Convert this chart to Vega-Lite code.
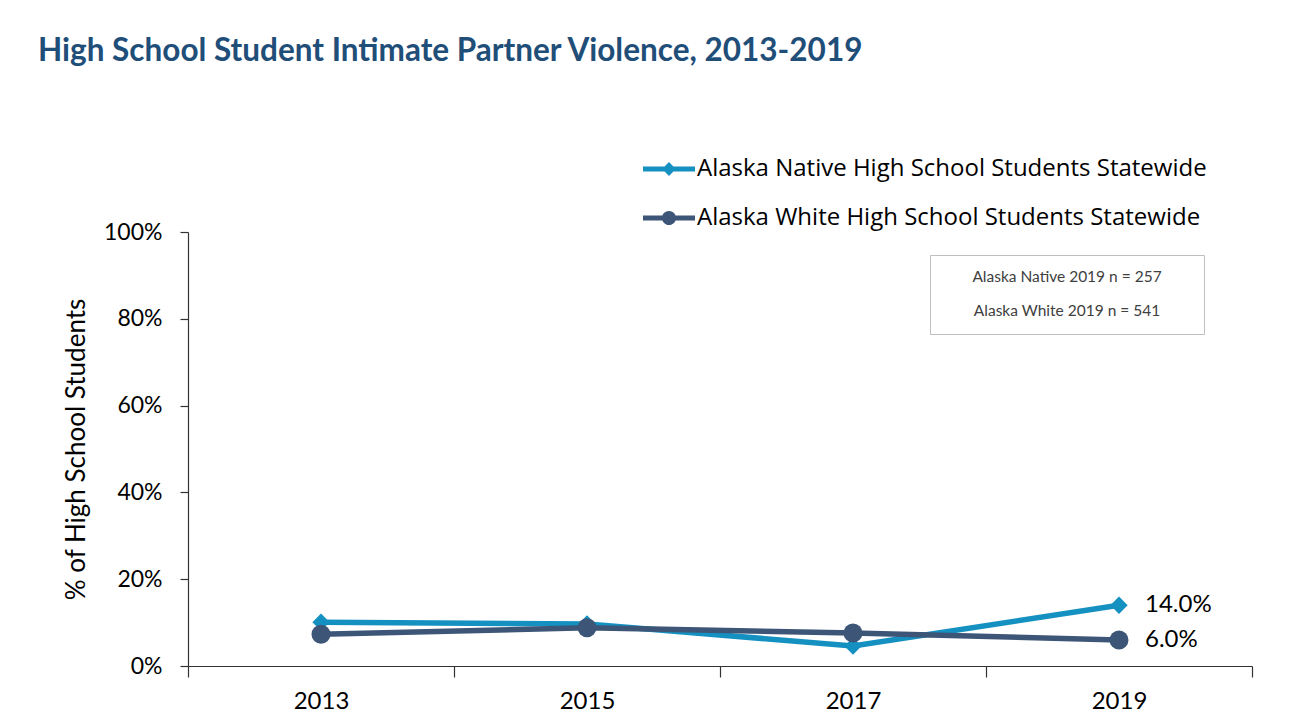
{
  "$schema": "https://vega.github.io/schema/vega-lite/v6.json",
  "width": 1064,
  "height": 434,
  "autosize": {"type": "none"},
  "padding": {"left": 188, "top": 232, "right": 53, "bottom": 61},
  "background": "white",
  "config": {"view": {"stroke": null}, "font": "Lato"},
  "title": {
    "text": "High School Student Intimate Partner Violence, 2013-2019",
    "anchor": "start",
    "frame": "group",
    "dx": -150,
    "offset": 51,
    "baseline": "alphabetic",
    "fontSize": 31.5,
    "font": "Lato",
    "fontWeight": "bold",
    "color": "#1F4E79"
  },
  "datasets": {
    "series": [
      {"year": "2013", "group": "Alaska Native High School Students Statewide", "value": 0.101},
      {"year": "2015", "group": "Alaska Native High School Students Statewide", "value": 0.097},
      {"year": "2017", "group": "Alaska Native High School Students Statewide", "value": 0.046},
      {"year": "2019", "group": "Alaska Native High School Students Statewide", "value": 0.14},
      {"year": "2013", "group": "Alaska White High School Students Statewide", "value": 0.073},
      {"year": "2015", "group": "Alaska White High School Students Statewide", "value": 0.088},
      {"year": "2017", "group": "Alaska White High School Students Statewide", "value": 0.076},
      {"year": "2019", "group": "Alaska White High School Students Statewide", "value": 0.06}
    ],
    "notes": [
      {"note": "Alaska Native 2019 n = 257"},
      {"note": "Alaska White 2019 n = 541"}
    ]
  },
  "data": {"name": "series"},
  "encoding": {
    "x": {
      "field": "year",
      "type": "ordinal",
      "scale": {"paddingInner": 0, "paddingOuter": 0},
      "axis": {
        "title": null,
        "tickBand": "extent",
        "tickSize": 11,
        "labelPadding": 12,
        "labelAngle": 0,
        "labelFont": "Lato",
        "labelFontSize": 24,
        "labelColor": "#000000",
        "domainColor": "#333333",
        "tickColor": "#333333",
        "domainWidth": 1.2,
        "tickWidth": 1.2
      }
    },
    "y": {
      "field": "value",
      "type": "quantitative",
      "scale": {"domain": [0, 1], "nice": false},
      "axis": {
        "title": "% of High School Students",
        "values": [0, 0.2, 0.4, 0.6, 0.8, 1],
        "format": ".0%",
        "grid": false,
        "tickSize": 8,
        "labelPadding": 18,
        "labelFont": "Lato",
        "labelFontSize": 23,
        "labelColor": "#000000",
        "titleFont": "Lato",
        "titleFontSize": 26,
        "titleFontWeight": "normal",
        "titleColor": "#000000",
        "titlePadding": 14,
        "domainColor": "#333333",
        "tickColor": "#333333",
        "domainWidth": 1.2,
        "tickWidth": 1.2
      }
    }
  },
  "layer": [
    {
      "mark": {"type": "line", "strokeWidth": 5.5},
      "encoding": {
        "color": {
          "field": "group",
          "type": "nominal",
          "scale": {"range": ["#1490C1", "#3D5577"]},
          "legend": {
            "orient": "none",
            "legendX": 455,
            "legendY": -89,
            "title": null,
            "padding": 0,
            "symbolSize": 2704,
            "symbolStrokeWidth": 0,
            "labelOffset": 2,
            "labelLimit": 700,
            "labelFont": "Open Sans",
            "labelFontSize": 24,
            "labelColor": "#000000",
            "rowPadding": 11,
            "encode": {
              "symbols": {
                "update": {
                  "shape": {"signal": "datum.value === 'Alaska Native High School Students Statewide' ? 'M-1,-0.1L-0.17,-0.1L0,-0.27L0.17,-0.1L1,-0.1L1,0.1L0.17,0.1L0,0.27L-0.17,0.1L-1,0.1Z' : 'M-1,-0.1L1,-0.1L1,0.1L-1,0.1Z M-0.27,0A0.27,0.27,0,1,1,0.27,0A0.27,0.27,0,1,1,-0.27,0Z'"},
                  "fill": {"signal": "datum.value === 'Alaska Native High School Students Statewide' ? '#1490C1' : '#3D5577'"},
                  "stroke": {"value": "transparent"},
                  "opacity": {"value": 1}
                }
              }
            }
          }
        }
      }
    },
    {
      "transform": [{"filter": "datum.group === 'Alaska Native High School Students Statewide'"}],
      "mark": {"type": "point", "shape": "diamond", "filled": true, "size": 300, "opacity": 1},
      "encoding": {"color": {"field": "group", "type": "nominal"}}
    },
    {
      "transform": [{"filter": "datum.group === 'Alaska White High School Students Statewide'"}],
      "mark": {"type": "point", "shape": "circle", "filled": true, "size": 360, "opacity": 1},
      "encoding": {"color": {"field": "group", "type": "nominal"}}
    },
    {
      "transform": [{"filter": "datum.year === '2019'"}],
      "mark": {"type": "text", "align": "left", "baseline": "middle", "dx": 26, "font": "Lato", "fontSize": 24, "color": "#000000"},
      "encoding": {"text": {"field": "value", "type": "quantitative", "format": ".1%"}}
    },
    {
      "data": {"name": "notes"},
      "mark": {"type": "point", "opacity": 0},
      "encoding": {
        "x": {"value": 0},
        "y": {"value": 0},
        "shape": {
          "field": "note",
          "type": "nominal",
          "legend": {
            "orient": "none",
            "legendX": 742,
            "legendY": 23,
            "title": "\u00a0",
            "titleOrient": "right",
            "titlePadding": 28,
            "titleFontSize": 15,
            "strokeColor": "#BFBFBF",
            "fillColor": "#FFFFFF",
            "padding": 14,
            "symbolSize": 256,
            "symbolOpacity": 0,
            "symbolStrokeWidth": 0,
            "labelOffset": 107,
            "labelAlign": "center",
            "labelLimit": 400,
            "labelFont": "Lato",
            "labelFontSize": 15.5,
            "labelColor": "#404040",
            "rowPadding": 17
          }
        }
      }
    }
  ]
}
